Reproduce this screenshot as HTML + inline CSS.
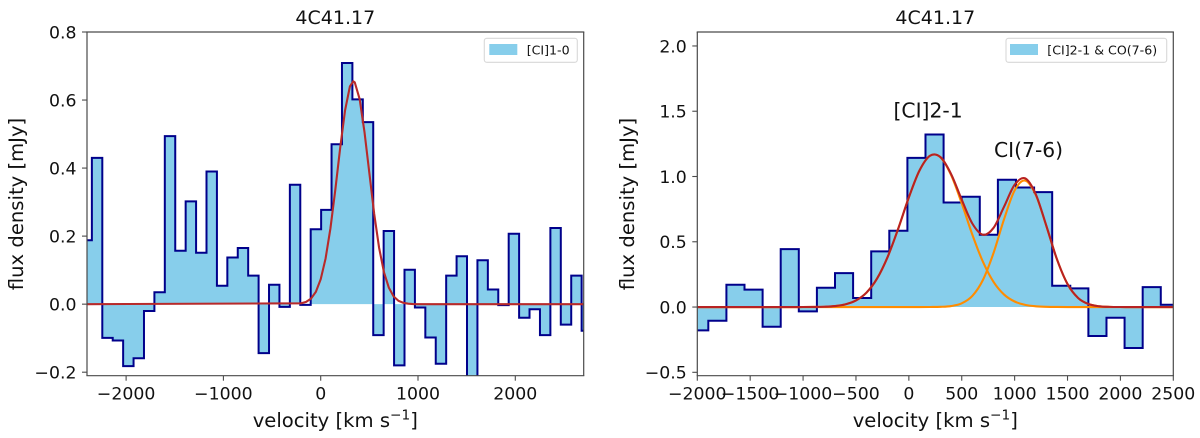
<!DOCTYPE html>
<html lang="en">
<head>
<meta charset="utf-8">
<title>4C41.17 spectra</title>
<style>
html,body{margin:0;padding:0;background:#fff;}
#figure{display:block;width:1200px;height:438px;}
text{font-family:"DejaVu Sans","Liberation Sans",sans-serif;fill:#111;}
</style>
</head>
<body>
<svg id="figure" xmlns="http://www.w3.org/2000/svg" width="1200" height="438" viewBox="0 0 1200 438">
<defs>
<clipPath id="clip-left"><rect x="87" y="32" width="496.7" height="343.7"/></clipPath>
<clipPath id="clip-right"><rect x="697.3" y="32" width="476" height="343.7"/></clipPath>
</defs>
</svg>
<script>
// ---- Left panel data: [CI]1-0 ----
const leftBinStart = -2459;
const leftBinWidth = 107.1;
const leftFlux = [0.188,0.43,-0.099,-0.107,-0.182,-0.159,-0.02,0.035,0.494,0.157,0.302,0.151,0.39,0.054,0.137,0.165,0.084,-0.144,0.057,-0.008,0.351,-0.002,0.22,0.277,0.47,0.709,0.602,0.535,-0.091,0.215,-0.18,0.101,-0.01,-0.098,-0.175,0.084,0.141,-0.23,0.129,0.043,-0.003,0.207,-0.04,-0.015,-0.091,0.224,-0.06,0.084,-0.078];
const leftFitVelocity = [-2402,-200,-150,-100,-50,0,50,100,150,200,250,300,335,350,400,450,500,550,600,650,700,750,800,850,900,950,1000,2703];
const leftFitFlux = [0,0.0025,0.0067,0.0163,0.0362,0.0732,0.134,0.223,0.336,0.459,0.569,0.64,0.655,0.652,0.603,0.506,0.385,0.265,0.166,0.094,0.0486,0.0226,0.0096,0.0037,0.0013,0.0004,0,0];
const leftXTicks = [-2000,-1000,0,1000,2000];
const leftYTicks = [-0.2,0,0.2,0.4,0.6,0.8];
const leftYLabels = ["−0.2","0.0","0.2","0.4","0.6","0.8"];

// ---- Right panel data: [CI]2-1 & CO(7-6) ----
const rightBinStart = -2067;
const rightBinWidth = 171.1;
const rightFlux = [-0.179,-0.105,0.171,0.133,-0.151,0.444,-0.033,0.148,0.26,0.069,0.426,0.584,1.143,1.322,0.801,0.845,0.554,0.975,0.916,0.88,0.163,0.143,-0.222,-0.082,-0.314,0.153,0.018];
const rightFitVelocity = [-2000,-1900,-1800,-1700,-1600,-1500,-1400,-1300,-1200,-1100,-1000,-900,-800,-700,-600,-500,-400,-300,-200,-100,0,100,200,300,400,500,600,700,800,900,1000,1100,1200,1300,1400,1500,1600,1700,1800,1900,2000,2100,2200,2300,2400,2500];
const rightFitCI = [0,0,0,0,0,0,0,0,0,0,0.0002,0.0007,0.0023,0.0073,0.0204,0.0503,0.111,0.219,0.385,0.602,0.84,1.045,1.159,1.146,1.01,0.794,0.555,0.347,0.193,0.0957,0.0424,0.0167,0.0059,0.0018,0.0005,0.0001,0,0,0,0,0,0,0,0,0,0];
const rightFitCO = [0,0,0,0,0,0,0,0,0,0,0,0,0,0,0,0,0,0,0,0,0,0,0.0003,0.0017,0.0077,0.0284,0.0849,0.207,0.413,0.673,0.894,0.969,0.858,0.62,0.366,0.176,0.0693,0.0222,0.0058,0.0012,0.0002,0,0,0,0,0];
const rightXTicks = [-2000,-1500,-1000,-500,0,500,1000,1500,2000,2500];
const rightYTicks = [-0.5,0,0.5,1,1.5,2];
const rightYLabels = ["−0.5","0.0","0.5","1.0","1.5","2.0"];

const SVGNS = "http://www.w3.org/2000/svg";
const root = document.getElementById("figure");

function makeScale(d0, d1, r0, r1) {
  return function (v) { return r0 + (v - d0) * (r1 - r0) / (d1 - d0); };
}

function addLine(parent, name, x1, y1, x2, y2, color, width) {
  const el = document.createElementNS(SVGNS, "line");
  
  
  el.setAttribute("x1", x1);
  el.setAttribute("y1", y1);
  el.setAttribute("x2", x2);
  el.setAttribute("y2", y2);
  el.setAttribute("stroke", color);
  el.setAttribute("stroke-width", width);
  parent.appendChild(el);
  return el;
}

function addPath(parent, name, d, fill, stroke, width, clip) {
  const el = document.createElementNS(SVGNS, "path");
  
  
  el.setAttribute("d", d);
  el.setAttribute("fill", fill);
  el.setAttribute("stroke", stroke);
  el.setAttribute("stroke-width", width);
  el.setAttribute("stroke-linejoin", "miter");
  if (clip) el.setAttribute("clip-path", "url(#" + clip + ")");
  parent.appendChild(el);
  return el;
}

function addText(parent, name, x, y, str, size, anchor, rotate) {
  const el = document.createElementNS(SVGNS, "text");
  
  
  el.setAttribute("x", x);
  el.setAttribute("y", y);
  el.setAttribute("font-size", size);
  el.setAttribute("text-anchor", anchor);
  if (rotate) el.setAttribute("transform", "rotate(" + rotate + " " + x + " " + y + ")");
  el.textContent = str;
  parent.appendChild(el);
  return el;
}

function addVelocityLabel(parent, cx, y) {
  const el = addText(parent, "x-axis-title", cx, y, "velocity [km s", 19.6, "middle");
  const sup = document.createElementNS(SVGNS, "tspan");
  sup.setAttribute("font-size", "13.7");
  sup.setAttribute("dy", "-7.5");
  sup.textContent = "−1";
  el.appendChild(sup);
  const close = document.createElementNS(SVGNS, "tspan");
  close.setAttribute("dy", "7.5");
  close.textContent = "]";
  el.appendChild(close);
}

function addLegend(parent, box, patchX, textX, str) {
  const group = document.createElementNS(SVGNS, "g");
  
  
  parent.appendChild(group);
  const frame = document.createElementNS(SVGNS, "rect");
  
  
  frame.setAttribute("x", box[0]);
  frame.setAttribute("y", box[1]);
  frame.setAttribute("width", box[2]);
  frame.setAttribute("height", box[3]);
  frame.setAttribute("rx", "2.5");
  frame.setAttribute("fill", "#fff");
  frame.setAttribute("stroke", "#d8d8d8");
  frame.setAttribute("stroke-width", "1.1");
  group.appendChild(frame);
  const patch = document.createElementNS(SVGNS, "rect");
  
  
  patch.setAttribute("x", patchX);
  patch.setAttribute("y", "44");
  patch.setAttribute("width", "28");
  patch.setAttribute("height", "11");
  patch.setAttribute("fill", "#87ceeb");
  group.appendChild(patch);
  addText(group, "legend-label", textX, 54.5, str, 12.6, "start");
}

function stepPaths(flux, start, width, sx, sy) {
  let line = "";
  let fill = "M" + sx(start).toFixed(2) + " " + sy(0).toFixed(2);
  flux.forEach(function (f, i) {
    const a = sx(start + i * width).toFixed(2);
    const b = sx(start + (i + 1) * width).toFixed(2);
    const y = sy(f).toFixed(2);
    line += (i === 0 ? "M" : "L") + a + " " + y + "L" + b + " " + y;
    fill += "L" + a + " " + y + "L" + b + " " + y;
  });
  fill += "L" + sx(start + flux.length * width).toFixed(2) + " " + sy(0).toFixed(2) + "Z";
  return { line: line, fill: fill };
}

function smoothPath(xs, ys, sx, sy) {
  const p = xs.map(function (x, i) { return [sx(x), sy(ys[i])]; });
  let d = "M" + p[0][0].toFixed(2) + " " + p[0][1].toFixed(2);
  for (let i = 0; i < p.length - 1; i++) {
    const p0 = p[Math.max(i - 1, 0)], p1 = p[i], p2 = p[i + 1], p3 = p[Math.min(i + 2, p.length - 1)];
    const c1x = p1[0] + (p2[0] - p0[0]) / 6, c1y = p1[1] + (p2[1] - p0[1]) / 6;
    const c2x = p2[0] - (p3[0] - p1[0]) / 6, c2y = p2[1] - (p3[1] - p1[1]) / 6;
    d += "C" + c1x.toFixed(2) + " " + c1y.toFixed(2) + " " + c2x.toFixed(2) + " " + c2y.toFixed(2) + " " + p2[0].toFixed(2) + " " + p2[1].toFixed(2);
  }
  return d;
}

function linePath(xs, ys, sx, sy) {
  return xs.map(function (x, i) {
    return (i === 0 ? "M" : "L") + sx(x).toFixed(2) + " " + sy(ys[i]).toFixed(2);
  }).join("");
}

function drawFrame(parent, box, xTicks, yTicks, yLabels, sx, sy) {
  const spine = "#4a4a4a";
  xTicks.forEach(function (t) {
    const x = sx(t);
    addLine(parent, "x-tick", x, box.bottom, x, box.bottom + 5, spine, 1.1);
    addText(parent, "x-tick-label", x, 399.5, String(t).replace("-", "−"), 17.3, "middle");
  });
  yTicks.forEach(function (t, i) {
    const y = sy(t);
    addLine(parent, "y-tick", box.left - 5, y, box.left, y, spine, 1.1);
    addText(parent, "y-tick-label", box.left - 10.5, y + 6.3, yLabels[i], 17.3, "end");
  });
  addLine(parent, "left-spine", box.left, box.top, box.left, box.bottom, spine, 1.2);
  addLine(parent, "right-spine", box.right, box.top, box.right, box.bottom, spine, 1.2);
  addLine(parent, "top-spine", box.left - 0.6, box.top, box.right + 0.6, box.top, spine, 1.2);
  addLine(parent, "bottom-spine", box.left - 0.6, box.bottom, box.right + 0.6, box.bottom, spine, 1.2);
}

// ---- Left panel ----
(function () {
  const box = { left: 87, right: 583.7, top: 32, bottom: 375.7 };
  const sx = makeScale(-2402, 2703, box.left, box.right);
  const sy = makeScale(-0.2103, 0.8, box.bottom, box.top);
  const g = document.createElementNS(SVGNS, "g");
  
  
  root.appendChild(g);
  const s = stepPaths(leftFlux, leftBinStart, leftBinWidth, sx, sy);
  addPath(g, "spectrum-fill", s.fill, "#87ceeb", "none", 0, "clip-left");
  addPath(g, "spectrum-step-line", s.line, "none", "#00008b", 2, "clip-left");
  addPath(g, "gaussian-fit-line", linePath(leftFitVelocity, leftFitFlux, sx, sy), "none", "#b82a2a", 2.1, "clip-left");
  drawFrame(g, box, leftXTicks, leftYTicks, leftYLabels, sx, sy);
  addText(g, "chart-title", 335.3, 24, "4C41.17", 19, "middle");
  addText(g, "y-axis-title", 23, 204, "flux density [mJy]", 19.6, "middle", -90);
  addVelocityLabel(g, 335.3, 427);
  addLegend(g, [484.3, 38.3, 93, 24], 489.3, 526.7, "[CI]1-0");
})();

// ---- Right panel ----
(function () {
  const box = { left: 697.3, right: 1173.3, top: 32, bottom: 375.7 };
  const sx = makeScale(-2000, 2500, box.left, box.right);
  const sy = makeScale(-0.526, 2.107, box.bottom, box.top);
  const g = document.createElementNS(SVGNS, "g");
  
  
  root.appendChild(g);
  const s = stepPaths(rightFlux, rightBinStart, rightBinWidth, sx, sy);
  addPath(g, "spectrum-fill", s.fill, "#87ceeb", "none", 0, "clip-right");
  addPath(g, "spectrum-step-line", s.line, "none", "#00008b", 2, "clip-right");
  addPath(g, "ci-gaussian-line", smoothPath(rightFitVelocity, rightFitCI, sx, sy), "none", "#ff8c00", 2.1, "clip-right");
  addPath(g, "co-gaussian-line", smoothPath(rightFitVelocity, rightFitCO, sx, sy), "none", "#ff8c00", 2.1, "clip-right");
  const total = rightFitCI.map(function (v, i) { return v + rightFitCO[i]; });
  addPath(g, "total-fit-line", smoothPath(rightFitVelocity, total, sx, sy), "none", "#b82222", 2.1, "clip-right");
  drawFrame(g, box, rightXTicks, rightYTicks, rightYLabels, sx, sy);
  addText(g, "chart-title", 935.3, 24, "4C41.17", 19, "middle");
  addText(g, "y-axis-title", 634, 204, "flux density [mJy]", 19.6, "middle", -90);
  addVelocityLabel(g, 935.3, 427);
  addText(g, "ci-2-1-annotation", 893.5, 117.3, "[CI]2-1", 20.3, "start");
  addText(g, "ci-7-6-annotation", 994, 157, "CI(7-6)", 20.3, "start");
  addLegend(g, [1006, 38.3, 160.7, 24], 1010, 1047.3, "[CI]2-1 & CO(7-6)");
})();
</script>
</body>
</html>
